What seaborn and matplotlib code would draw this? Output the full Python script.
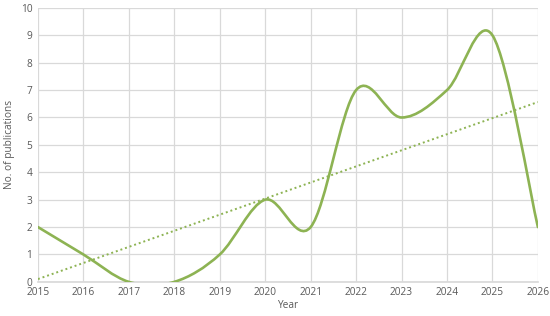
import numpy as np
import pandas as pd
import matplotlib
matplotlib.use("Agg")
import matplotlib.pyplot as plt
from matplotlib.path import Path
from matplotlib.patches import PathPatch
import seaborn as sns

years = [2015, 2016, 2017, 2018, 2019, 2020, 2021, 2022, 2023, 2024, 2025, 2026]
publications = [2, 1, 0, 0, 1, 3, 2, 7, 6, 7, 9, 2]
y_ticks = [0, 1, 2, 3, 4, 5, 6, 7, 8, 9, 10]

GREEN = "#8db353"
TXT = "#595959"

sns.set_theme(style="white")
plt.rcParams['font.family'] = ['Open Sans', 'DejaVu Sans']

df = pd.DataFrame({"Year": years, "Pubs": publications})

fig = plt.figure(figsize=(5.5, 3.16), dpi=100)
ax = fig.add_axes([0.069, 0.108, 0.909, 0.867])

# Smoothed line (Excel-style Catmull-Rom Bezier) through the data points
x = np.array(years, dtype=float)
y = np.array(publications, dtype=float)
verts = [(x[0], y[0])]
codes = [Path.MOVETO]
n = len(x)
for i in range(n - 1):
    p0 = np.array([x[max(i - 1, 0)], y[max(i - 1, 0)]])
    p1 = np.array([x[i], y[i]])
    p2 = np.array([x[i + 1], y[i + 1]])
    p3 = np.array([x[min(i + 2, n - 1)], y[min(i + 2, n - 1)]])
    c1 = p1 + (p2 - p0) / 6.0
    c2 = p2 - (p3 - p1) / 6.0
    verts += [tuple(c1), tuple(c2), tuple(p2)]
    codes += [Path.CURVE4, Path.CURVE4, Path.CURVE4]
patch = PathPatch(Path(verts, codes), facecolor="none", edgecolor=GREEN,
                  lw=1.9, zorder=3, capstyle="round", joinstyle="round")
ax.add_patch(patch)

# Linear trend line
sns.regplot(data=df, x="Year", y="Pubs", scatter=False, ci=None, ax=ax,
            line_kws=dict(color=GREEN, lw=1.4, linestyle=(0, (1, 1.5)), zorder=2))

ax.set_xlim(2015, 2026)
ax.set_ylim(0, 10)
ax.set_xticks(years)
ax.set_xticklabels([str(v) for v in years])
ax.set_yticks(y_ticks)
ax.grid(True, color="#d9d9d9", lw=0.9)
ax.set_axisbelow(True)
for s in ax.spines.values():
    s.set_visible(False)
ax.spines["bottom"].set_visible(True)
ax.spines["bottom"].set_color("#d9d9d9")
ax.tick_params(axis="both", length=0, labelsize=7.3, colors=TXT, pad=4)
ax.set_xlabel("Year", fontsize=7.3, color=TXT, labelpad=1)
ax.set_ylabel("No. of publications", fontsize=7.3, color=TXT, labelpad=4)

fig.savefig("out.png", dpi=100)
